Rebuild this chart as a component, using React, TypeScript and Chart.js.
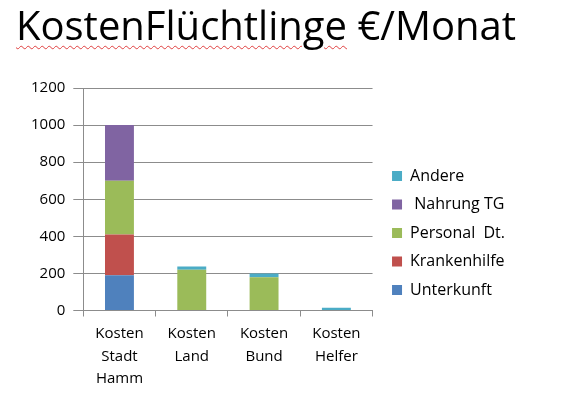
import React, { useEffect, useRef } from 'react';
import Chart from 'chart.js/auto';

const categories = [
  ['Kosten', 'Stadt', 'Hamm'],
  ['Kosten', 'Land'],
  ['Kosten', 'Bund'],
  ['Kosten', 'Helfer'],
];
const unterkunft = [190, 0, 0, 0];
const krankenhilfe = [220, 0, 0, 0];
const personal = [290, 220, 180, 0];
const nahrung = [300, 0, 0, 0];
const andere = [0, 17, 20, 15];
const yTicks = [0, 200, 400, 600, 800, 1000, 1200];

const FONT = '"Open Sans", sans-serif';

// move the legend box a little: more gap to the plot, and a bit higher
const legendShift = {
  id: 'legendShift',
  afterLayout(chart: any) {
    const lg = chart.legend;
    if (!lg) return;
    lg.left += 7;
    lg.right += 7;
    lg.top -= 9;
    lg.bottom -= 9;
  },
};

const App: React.FC = () => {
  const chartRef = useRef<HTMLCanvasElement | null>(null);
  const chartInstance = useRef<Chart | null>(null);

  useEffect(() => {
    const canvas = chartRef.current;
    if (!canvas) return;
    const ctx = canvas.getContext('2d');
    if (!ctx) return;

    if (chartInstance.current) {
      chartInstance.current.destroy();
    }

    chartInstance.current = new Chart(ctx, {
      type: 'bar',
      data: {
        labels: categories,
        datasets: [
          { label: 'Unterkunft', data: unterkunft, backgroundColor: '#4F81BD' },
          { label: 'Krankenhilfe', data: krankenhilfe, backgroundColor: '#C0504D' },
          { label: 'Personal  Dt.', data: personal, backgroundColor: '#9BBB59' },
          { label: ' Nahrung TG', data: nahrung, backgroundColor: '#8064A2' },
          { label: 'Andere', data: andere, backgroundColor: '#4BACC6' },
        ],
      },
      plugins: [legendShift],
      options: {
        animation: false,
        responsive: true,
        maintainAspectRatio: false,
        layout: { padding: { left: 23, right: 59, top: 88, bottom: 18 } },
        datasets: {
          bar: { barPercentage: 0.4, categoryPercentage: 1 },
        },
        plugins: {
          title: { display: false },
          tooltip: { enabled: false },
          legend: {
            position: 'right',
            reverse: true,
            maxWidth: 220,
            labels: {
              boxWidth: 10,
              boxHeight: 10,
              padding: 12.5,
              color: '#000',
              font: { family: FONT, size: 16 },
            },
          },
        },
        scales: {
          x: {
            stacked: true,
            grid: {
              drawOnChartArea: false,
              drawTicks: true,
              tickLength: 6,
              color: '#8c8c8c',
            },
            border: { color: '#8c8c8c' },
            ticks: {
              color: '#000',
              padding: 6,
              maxRotation: 0,
              font: { family: FONT, size: 15, lineHeight: 1.5 },
            },
          },
          y: {
            stacked: true,
            min: 0,
            max: 1200,
            afterBuildTicks: (axis) => {
              axis.ticks = yTicks.map((v) => ({ value: v }));
            },
            grid: { color: '#8c8c8c', tickLength: 10 },
            border: { color: '#8c8c8c' },
            ticks: {
              color: '#000',
              padding: 8,
              font: { family: FONT, size: 15 },
              callback: (v) => String(v),
            },
          },
        },
      },
    });

    return () => {
      if (chartInstance.current) {
        chartInstance.current.destroy();
        chartInstance.current = null;
      }
    };
  }, []);

  return (
    <div style={{ position: 'fixed', left: 0, top: 0, width: 567, height: 414, background: '#fff' }}>
      <canvas ref={chartRef} />
      <div
        style={{
          position: 'absolute',
          left: 16,
          top: 0,
          fontFamily: FONT,
          fontSize: 40,
          color: '#000',
          whiteSpace: 'pre',
          lineHeight: '50px',
        }}
      >
        <span style={{ textDecoration: 'underline wavy #e04040', textDecorationThickness: 1, textUnderlineOffset: 5 }}>
          KostenFlüchtlinge
        </span>{' '}
        €/Monat
      </div>
    </div>
  );
};

export default App;
